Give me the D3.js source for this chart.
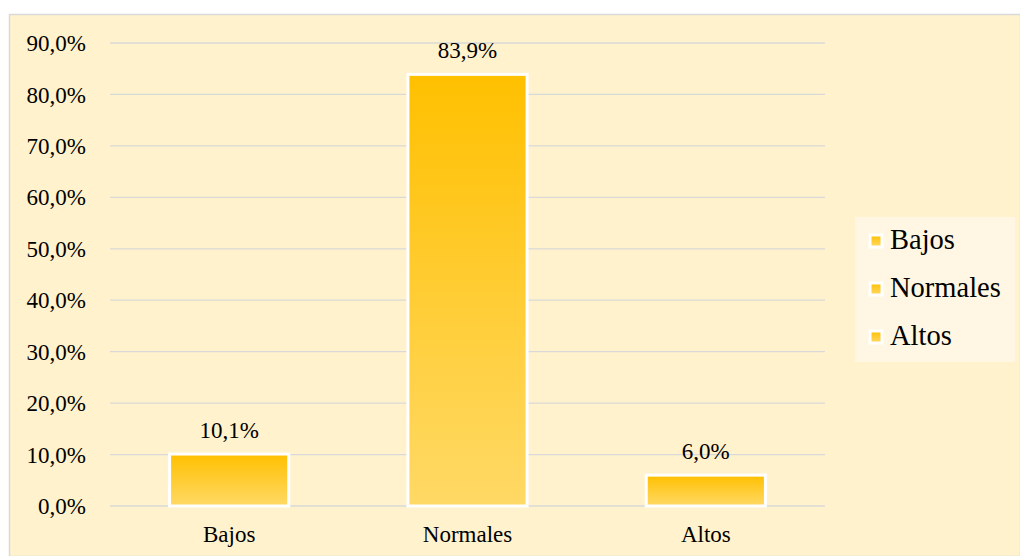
<!DOCTYPE html>
<html><head><meta charset="utf-8">
<script src="https://cdn.jsdelivr.net/npm/d3@7"></script>
<style>body{margin:0;background:#fff;}svg{display:block;}</style>
</head><body>
<script>
const categories = ["Bajos", "Normales", "Altos"];
const values = [10.1, 83.9, 6.0];
const valueLabels = ["10,1%", "83,9%", "6,0%"];
const yTicks = [0, 10, 20, 30, 40, 50, 60, 70, 80, 90];

const FONT = "'Liberation Serif', 'Times New Roman', serif";
const W = 1020, H = 556;
const svg = d3.select("body").append("svg").attr("width", W).attr("height", H);
const defs = svg.append("defs");
const g = defs.append("linearGradient").attr("id","barGrad").attr("x1",0).attr("y1",0).attr("x2",0).attr("y2",1);
g.append("stop").attr("offset","0%").attr("stop-color","#FFC000");
g.append("stop").attr("offset","100%").attr("stop-color","#FFD966");

svg.append("rect").attr("x",9.5).attr("y",14.5).attr("width",W-9).attr("height",H-14)
  .attr("fill","#FFF2CC").attr("stroke","#D9D9D9").attr("stroke-width",1.5);

const x = d3.scaleBand().domain(categories).range([110, 825]).paddingInner(0.5).paddingOuter(0.25);
const y = d3.scaleLinear().domain([0, 90]).range([506, 43]);

const grid = svg.append("g");
grid.selectAll("line").data(yTicks).join("line")
  .attr("x1",110).attr("x2",825).attr("y1",d=>y(d)).attr("y2",d=>y(d))
  .attr("stroke","#D9D9D9").attr("stroke-width",1.3);

const yAxis = d3.axisLeft(y).tickValues(yTicks).tickSize(0).tickPadding(0)
  .tickFormat(d=>d.toFixed(1).replace(".",",")+"%");
const ya = svg.append("g").attr("transform","translate(86,0)").call(yAxis);
ya.select(".domain").remove();
ya.selectAll("text").style("font-family",FONT).style("font-size","23px").attr("fill","#000").attr("dy","0.33em");

svg.selectAll("rect.bar").data(values).join("rect").attr("class","bar")
  .attr("x",(d,i)=>x(categories[i])).attr("width",x.bandwidth())
  .attr("y",d=>y(d)).attr("height",d=>y(0)-y(d))
  .attr("fill","url(#barGrad)").attr("stroke","#fff").attr("stroke-width",3);

svg.selectAll("text.vl").data(values).join("text").attr("class","vl")
  .attr("x",(d,i)=>x(categories[i])+x.bandwidth()/2).attr("y",d=>y(d)-16.5)
  .attr("text-anchor","middle").style("font-family",FONT).style("font-size","23px").attr("fill","#000")
  .text((d,i)=>valueLabels[i]);

const xAxis = d3.axisBottom(x).tickSize(0).tickPadding(0);
const xa = svg.append("g").attr("transform","translate(0,542)").call(xAxis);
xa.select(".domain").remove();
xa.selectAll("text").style("font-family",FONT).style("font-size","23px").attr("fill","#000").attr("y",0).attr("dy","0");

const leg = svg.append("g");
leg.append("rect").attr("x",855).attr("y",217).attr("width",160).attr("height",145).attr("fill","#FFF7E3");
const li = leg.selectAll("g.li").data(categories).join("g").attr("class","li")
  .attr("transform",(d,i)=>`translate(870,${241+i*48})`);
li.append("rect").attr("x",0).attr("y",-6).attr("width",12).attr("height",12)
  .attr("fill","url(#barGrad)").attr("stroke","#fff").attr("stroke-width",3);
li.append("text").attr("x",20).attr("y",8).style("font-family",FONT).style("font-size","28.5px").attr("fill","#000").text(d=>d);
</script>
</body></html>
